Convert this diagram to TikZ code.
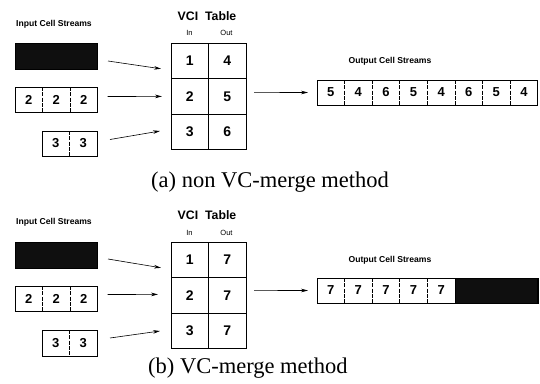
\documentclass[tikz,border=0pt]{standalone}
\usepackage{fontspec}
\setmainfont{Liberation Serif}
\newfontfamily\hv{Liberation Sans}
\usetikzlibrary{arrows.meta}
\tikzset{
  lbl/.style={font=\hv\bfseries\fontsize{8.6}{9}\selectfont, inner sep=0},
  ttl/.style={font=\hv\bfseries\fontsize{12.3}{13}\selectfont, inner sep=0},
  colhd/.style={font=\hv\fontsize{7.5}{8}\selectfont, inner sep=0},
  cell/.style={minimum width=27.5pt, minimum height=25pt, inner sep=0, outer sep=0,
    anchor=north west, font=\hv\bfseries\fontsize{13}{14}\selectfont},
  tcell/.style={draw, line width=0.8pt, minimum width=37.5pt, minimum height=35.6pt,
    inner sep=0, outer sep=0, anchor=north west, font=\hv\bfseries\fontsize{14}{15}\selectfont},
  blk/.style={fill=black!94, draw=black, line width=0.6pt, minimum width=82pt,
    minimum height=26pt, inner sep=0, outer sep=0, anchor=north west},
  frame/.style={line width=0.7pt},
  divd/.style={line width=0.7pt, dash pattern=on 4pt off 1.3pt},
  arr/.style={line width=0.6pt, -{Stealth[length=7pt,width=3.6pt]}},
  captxt/.style={font=\fontsize{22.5}{26}\selectfont, inner sep=0, anchor=west},
}
\begin{document}
\begin{tikzpicture}[x=1pt,y=-1pt]
\useasboundingbox (0,0) rectangle (540,383);

% ---------------- (a) non VC-merge ----------------
\node[lbl] (inA) at (54,24) {Input Cell Streams};
\node[blk] (blkA) at (15,43) {};
% stream of 2s
\node[cell] (sA21) at (15,87) {2};
\node[cell] (sA22) at (42.5,87) {2};
\node[cell] (sA23) at (70,87) {2};
\draw[frame] (sA21.north west) rectangle (sA23.south east);
\draw[divd] (sA21.north east) -- (sA21.south east);
\draw[divd] (sA22.north east) -- (sA22.south east);
% stream of 3s
\node[cell] (sA31) at (42,131) {3};
\node[cell] (sA32) at (69.5,131) {3};
\draw[frame] (sA31.north west) rectangle (sA32.south east);
\draw[divd] (sA31.north east) -- (sA31.south east);

% VCI table
\node[ttl] (vciA) at (207,16) {VCI\ \ Table};
\node[colhd] (hinA) at (189.5,33) {In};
\node[colhd] (houtA) at (226.5,33) {Out};
\node[tcell] (tA1i) at (171,43) {1};
\node[tcell] (tA1o) at (208.5,43) {4};
\node[tcell] (tA2i) at (171,78.6) {2};
\node[tcell] (tA2o) at (208.5,78.6) {5};
\node[tcell] (tA3i) at (171,114.2) {3};
\node[tcell] (tA3o) at (208.5,114.2) {6};

\draw[arr] ([shift={(11,5)}]blkA.east) -- ([shift={(-10,8)}]tA1i.west);
\draw[arr] ([shift={(10,-3)}]sA23.east) -- ([shift={(-9,0)}]tA2i.west);
\draw[arr] ([shift={(13,-4)}]sA32.east) -- ([shift={(-11,-1)}]tA3i.west);

% output stream
\node[lbl] (outA) at (390,61) {Output Cell Streams};
\foreach \d [count=\i] in {5,4,6,5,4,6,5,4}
  \node[cell] (oA\i) at ({317+27.6*(\i-1)},80) {\d};
\draw[frame] (oA1.north west) rectangle (oA8.south east);
\foreach \i in {1,...,7}
  \draw[divd] (oA\i.north east) -- (oA\i.south east);
\draw[arr] ([shift={(8,-4)}]tA2o.east) -- ([shift={(-9,0)}]oA1.west);

\node[captxt] (capA) at (151,182) {(a) non VC-merge method};

% ---------------- (b) VC-merge ----------------
\node[lbl] (inB) at (54,222) {Input Cell Streams};
\node[blk] (blkB) at (15,242) {};
\node[cell] (sB21) at (15,286) {2};
\node[cell] (sB22) at (42.5,286) {2};
\node[cell] (sB23) at (70,286) {2};
\draw[frame] (sB21.north west) rectangle (sB23.south east);
\draw[divd] (sB21.north east) -- (sB21.south east);
\draw[divd] (sB22.north east) -- (sB22.south east);
\node[cell, minimum height=26pt] (sB31) at (42,330) {3};
\node[cell, minimum height=26pt] (sB32) at (69.5,330) {3};
\draw[frame] (sB31.north west) rectangle (sB32.south east);
\draw[divd] (sB31.north east) -- (sB31.south east);

\node[ttl] (vciB) at (207,215) {VCI\ \ Table};
\node[colhd] (hinB) at (189.5,233) {In};
\node[colhd] (houtB) at (226.5,233) {Out};
\node[tcell] (tB1i) at (171,242) {1};
\node[tcell] (tB1o) at (208.5,242) {7};
\node[tcell] (tB2i) at (171,277.6) {2};
\node[tcell] (tB2o) at (208.5,277.6) {7};
\node[tcell] (tB3i) at (171,313.2) {3};
\node[tcell] (tB3o) at (208.5,313.2) {7};

\draw[arr] ([shift={(11,4)}]blkB.east) -- ([shift={(-10,8)}]tB1i.west);
\draw[arr] ([shift={(10,-4)}]sB23.east) -- ([shift={(-13,-1)}]tB2i.west);
\draw[arr] ([shift={(13,-5)}]sB32.east) -- ([shift={(-11,0)}]tB3i.west);

\node[lbl] (outB) at (390,260) {Output Cell Streams};
\foreach \d [count=\i] in {7,7,7,7,7}
  \node[cell] (oB\i) at ({317+27.6*(\i-1)},278) {\d};
\node[blk, minimum width=82.8pt, minimum height=25pt] (oBblk) at (455,278) {};
\draw[frame] (oB1.north west) rectangle (oBblk.south east);
\foreach \i in {1,...,4}
  \draw[divd] (oB\i.north east) -- (oB\i.south east);
\draw[arr] ([shift={(8,-5)}]tB2o.east) -- ([shift={(-9,0)}]oB1.west);

\node[captxt] (capB) at (148,368) {(b) VC-merge method};
\end{tikzpicture}
\end{document}
